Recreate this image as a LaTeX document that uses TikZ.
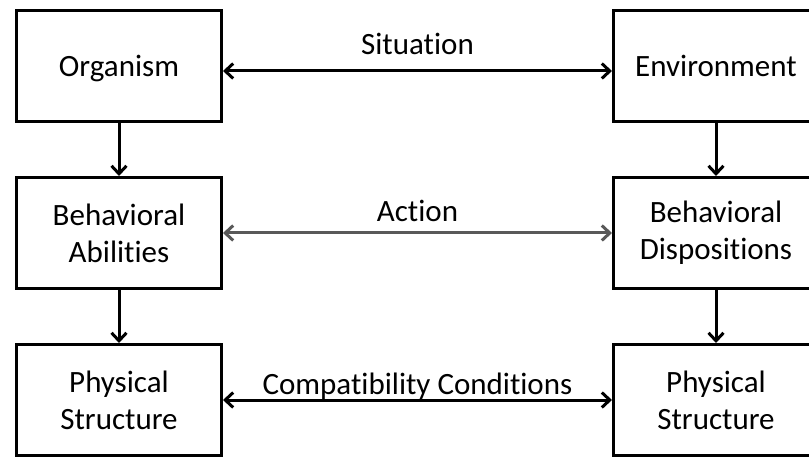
\documentclass[tikz,border=0pt]{standalone}
\usepackage{fontspec}
\setmainfont[Ligatures={NoCommon,NoRequired,NoContextual}]{Carlito}
\usetikzlibrary{arrows.meta}
\definecolor{linkgray}{HTML}{595959}
\begin{document}
\begin{tikzpicture}[x=1pt,y=-1pt,
  box/.style={draw=black,line width=3pt,minimum width=205pt,minimum height=111pt,
    align=center,inner sep=0pt,font=\fontsize{31}{37}\selectfont},
  single/.style={text depth=0pt},
  lbl/.style={anchor=base,inner sep=0pt,font=\fontsize{31}{37}\selectfont},
  link/.style={line width=3pt,{Straight Barb[length=8pt,width=15pt,line width=3pt]}-{Straight Barb[length=8pt,width=15pt,line width=3pt]}},
  down/.style={line width=3pt,-{Straight Barb[length=8pt,width=15pt,line width=3pt]}}]
\path[use as bounding box,clip] (0,0) rectangle (809,457);
\fill[white] (0,0) rectangle (809,457);

% left column
\node[box,single] (org) at (119,66) {Organism};
\node[box] (abil) at (119,233) {Behavioral\\Abilities};
\node[box] (phl) at (119,400) {Physical\\Structure};
% right column
\node[box,single] (env) at (716,66) {Environment};
\node[box] (disp) at (716,233) {Behavioral\\Dispositions};
\node[box] (phr) at (716,400) {Physical\\Structure};

% vertical links
\draw[down] (org) -- (abil);
\draw[down] (abil) -- (phl);
\draw[down] (env) -- (disp);
\draw[down] (disp) -- (phr);

% horizontal links
\draw[link] ([yshift=-5pt]org.east) -- ([yshift=-5pt]env.west)
  node[midway,lbl,yshift=16pt] (sit) {Situation};
\draw[link,draw=linkgray] (abil) -- (disp)
  node[midway,lbl,yshift=11pt] (act) {Action};
\draw[link] (phl) -- (phr)
  node[midway,lbl,yshift=6pt] (comp) {Compatibility Conditions};
\end{tikzpicture}
\end{document}
